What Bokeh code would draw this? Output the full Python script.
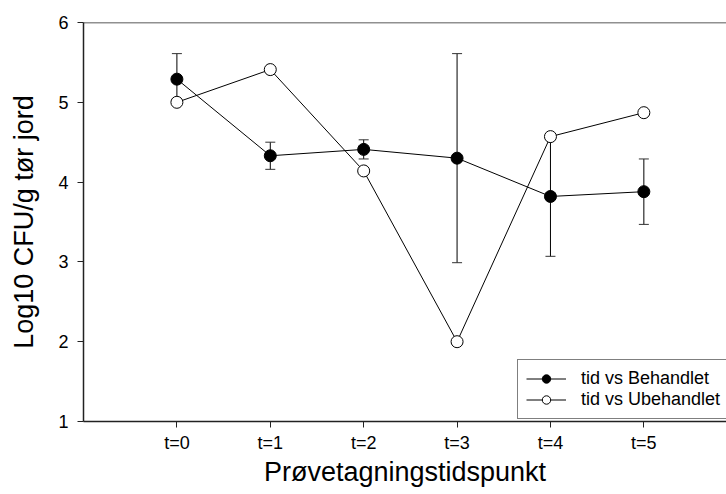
from bokeh.plotting import figure
from bokeh.models import (ColumnDataSource, Whisker, TeeHead, FixedTicker, Span,
                          Legend, LegendItem, Range1d)
from bokeh.embed import file_html
from bokeh.resources import INLINE

# ---- data ----
times = [0, 1, 2, 3, 4, 5]
time_labels = ["t=0", "t=1", "t=2", "t=3", "t=4", "t=5"]
behandlet = [5.29, 4.33, 4.41, 4.30, 3.82, 3.88]
behandlet_err = [0.32, 0.17, 0.12, 1.31, 0.75, 0.41]
ubehandlet = [5.00, 5.41, 4.14, 2.00, 4.57, 4.87]
y_ticks = [1, 2, 3, 4, 5, 6]

FONT = "Liberation Sans"

src_b = ColumnDataSource(dict(
    x=times, y=behandlet,
    lower=[v - e for v, e in zip(behandlet, behandlet_err)],
    upper=[v + e for v, e in zip(behandlet, behandlet_err)],
))
src_u = ColumnDataSource(dict(x=times, y=ubehandlet))

p = figure(width=726, height=494, output_backend="svg", toolbar_location=None,
           x_range=Range1d(-1, 5.885), y_range=Range1d(1, 6),
           min_border_left=83, min_border_top=22, min_border_bottom=73,
           min_border_right=0)
p.outline_line_color = None
p.xgrid.visible = False
p.ygrid.visible = False
p.background_fill_color = "white"
p.border_fill_color = "white"

# top frame line
p.add_layout(Span(location=6, dimension="width", line_color="#222222", line_width=1.5))

# lines
r_bl = p.line("x", "y", source=src_b, line_color="black", line_width=1)
r_ul = p.line("x", "y", source=src_u, line_color="black", line_width=1)

# error bars
w = Whisker(source=src_b, base="x", lower="lower", upper="upper",
            line_color="black", line_width=1,
            upper_head=TeeHead(size=10, line_color="#333333", line_width=1),
            lower_head=TeeHead(size=10, line_color="#333333", line_width=1))
p.add_layout(w)

# markers
r_bm = p.scatter("x", "y", source=src_b, size=12, marker="circle",
                 fill_color="black", line_color="black", line_width=1)
r_um = p.scatter("x", "y", source=src_u, size=12, marker="circle",
                 fill_color="white", line_color="black", line_width=1)

# axes
p.xaxis.ticker = FixedTicker(ticks=times)
p.xaxis.major_label_overrides = {t: l for t, l in zip(times, time_labels)}
p.yaxis.ticker = FixedTicker(ticks=y_ticks)
for ax in (p.xaxis[0], p.yaxis[0]):
    ax.axis_line_color = "#222222"
    ax.axis_line_width = 1.5
    ax.major_tick_line_color = "#222222"
    ax.major_tick_out = 6
    ax.major_tick_in = 0
    ax.minor_tick_line_color = None
    ax.major_label_text_font = FONT
    ax.major_label_text_font_size = "18px"
    ax.major_label_text_color = "black"
    ax.axis_label_text_font = FONT
    ax.axis_label_text_font_style = "normal"
    ax.axis_label_text_font_size = "27px"
    ax.axis_label_text_color = "black"

p.xaxis.axis_label = "Prøvetagningstidspunkt"
p.yaxis.axis_label = "Log10 CFU/g tør jord"
p.xaxis.major_label_standoff = 5
p.xaxis.axis_label_standoff = 1
p.yaxis.major_label_standoff = 9
p.yaxis.axis_label_standoff = 16

legend = Legend(items=[
    LegendItem(label="tid vs Behandlet", renderers=[r_bl, r_bm]),
    LegendItem(label="tid vs Ubehandlet", renderers=[r_ul, r_um]),
], location=(434, 2))
legend.border_line_color = "black"
legend.border_line_width = 1
legend.background_fill_color = "white"
legend.background_fill_alpha = 1
legend.label_text_font = FONT
legend.label_text_font_size = "18px"
legend.label_text_color = "black"
legend.glyph_width = 40
legend.glyph_height = 21
legend.label_height = 21
legend.label_standoff = 15
legend.spacing = 0
legend.padding = 8
legend.margin = 0
p.add_layout(legend)

open("out.html", "w").write(file_html(p, INLINE))
